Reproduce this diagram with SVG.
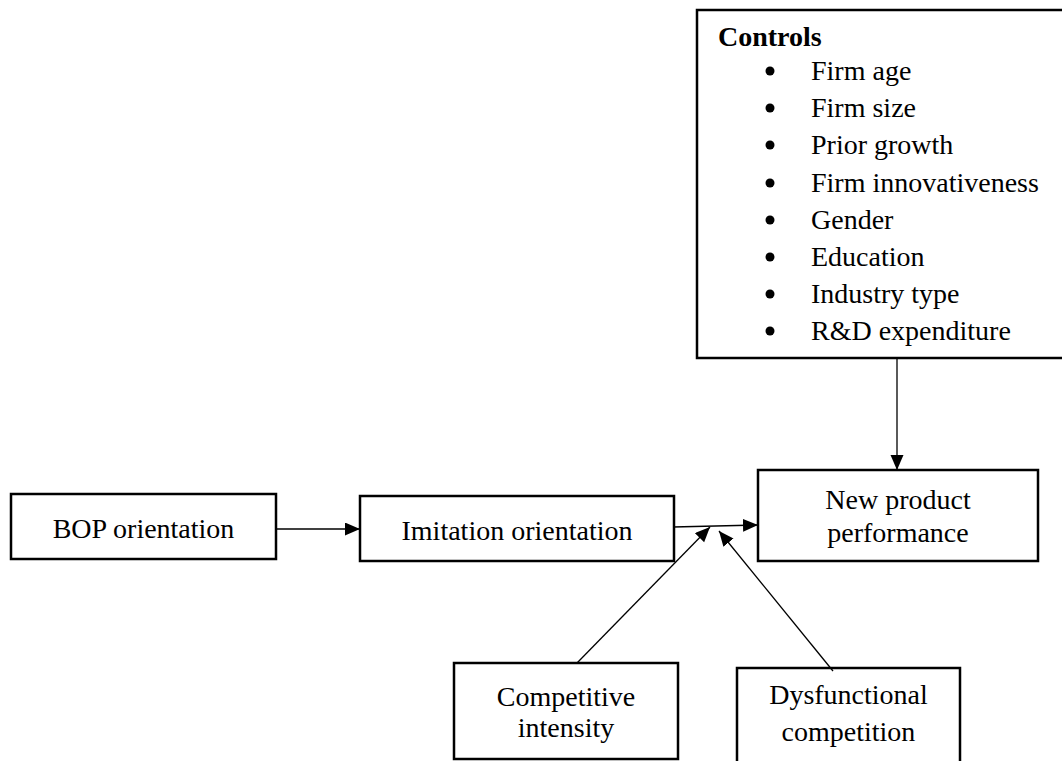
<svg xmlns="http://www.w3.org/2000/svg" width="1062" height="761" viewBox="0 0 1062 761">
<style>
.box{fill:#fff;stroke:#000;stroke-width:2.5}
.t{font-family:"Liberation Serif","Times New Roman",serif;font-size:28px;fill:#000}
.c{text-anchor:middle}
.b{font-weight:bold}
.conn line{stroke:#000;stroke-width:1.3}
</style>
<defs>
<marker id="ah" markerUnits="userSpaceOnUse" markerWidth="16" markerHeight="14" refX="15" refY="6.5" orient="auto">
<path d="M0,0 L15,6.5 L0,13 z" fill="#000"/>
</marker>
</defs>
<rect width="1062" height="761" fill="#fff"/>
<g id="controls">
<rect class="box" x="697" y="10" width="370" height="348"/>
<text class="t b" x="718" y="46">Controls</text>
<g fill="#000">
<circle cx="770" cy="71" r="4.5"/><circle cx="770" cy="108" r="4.5"/><circle cx="770" cy="145" r="4.5"/><circle cx="770" cy="183" r="4.5"/>
<circle cx="770" cy="220" r="4.5"/><circle cx="770" cy="257" r="4.5"/><circle cx="770" cy="294" r="4.5"/><circle cx="770" cy="331" r="4.5"/>
</g>
<text class="t" x="811" y="80">Firm age</text>
<text class="t" x="811" y="117">Firm size</text>
<text class="t" x="811" y="154">Prior growth</text>
<text class="t" x="811" y="192">Firm innovativeness</text>
<text class="t" x="811" y="229">Gender</text>
<text class="t" x="811" y="266">Education</text>
<text class="t" x="811" y="303">Industry type</text>
<text class="t" x="811" y="340">R&amp;D expenditure</text>
</g>
<g id="bop">
<rect class="box" x="11" y="494" width="265" height="65"/>
<text class="t c" x="143.5" y="538">BOP orientation</text>
</g>
<g id="imitation">
<rect class="box" x="360" y="496" width="314" height="65"/>
<text class="t c" x="517" y="540">Imitation orientation</text>
</g>
<g id="npp">
<rect class="box" x="758" y="470" width="280" height="91"/>
<text class="t c" x="898" y="509">New product</text>
<text class="t c" x="898" y="542">performance</text>
</g>
<g id="competitive">
<rect class="box" x="454" y="663" width="224" height="96"/>
<text class="t c" x="566" y="706">Competitive</text>
<text class="t c" x="566" y="737">intensity</text>
</g>
<g id="dysfunctional">
<rect class="box" x="737" y="668" width="223" height="110"/>
<text class="t c" x="848.5" y="704">Dysfunctional</text>
<text class="t c" x="848.5" y="741">competition</text>
</g>
<g class="conn" id="connectors">
<line x1="897" y1="358" x2="897" y2="470" marker-end="url(#ah)"/>
<line x1="276" y1="529" x2="360" y2="529" marker-end="url(#ah)"/>
<line x1="673" y1="527" x2="758" y2="525" marker-end="url(#ah)"/>
<line x1="577" y1="663" x2="710" y2="527" marker-end="url(#ah)"/>
<line x1="833" y1="671" x2="719" y2="531" marker-end="url(#ah)"/>
</g>
</svg>
